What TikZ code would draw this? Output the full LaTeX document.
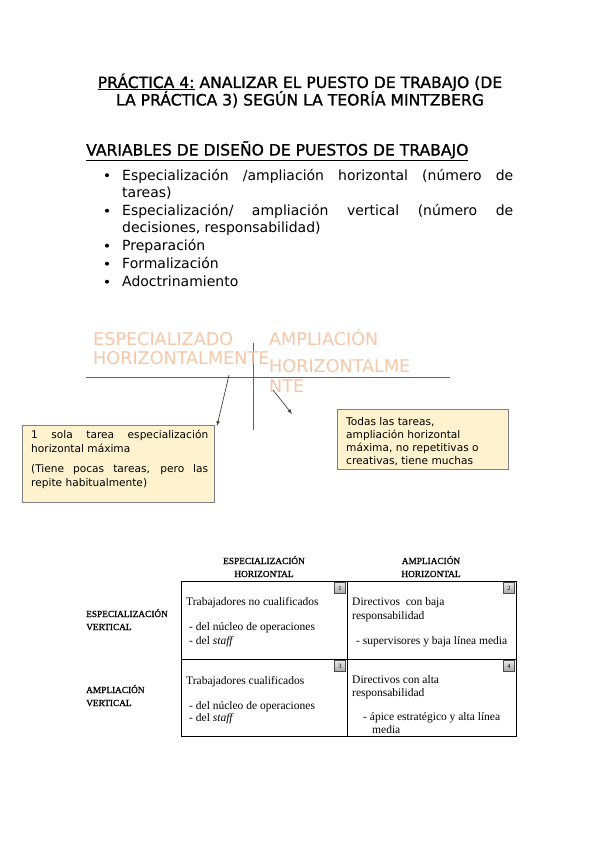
\documentclass[tikz,border=0pt]{standalone}
\usepackage{fontspec}
\setmainfont{DejaVu Sans}
\newfontfamily\titlefont[FakeBold=1.2]{DejaVu Sans}
\newfontfamily\cellfont{Liberation Serif}
\newfontfamily\headfont[FakeBold=1]{Liberation Serif}
\definecolor{peach}{RGB}{247,198,166}
\definecolor{notefill}{RGB}{255,242,206}
\definecolor{notedraw}{RGB}{128,128,128}
\definecolor{axisgray}{RGB}{95,95,95}

\begin{document}
\begin{tikzpicture}[x=1pt,y=-1pt,
  txt/.style={anchor=base west,inner sep=0pt},
  ttl/.style={anchor=base,inner sep=0pt,font=\titlefont\fontsize{15.6}{18}\selectfont},
  item/.style={txt,font=\fontsize{14}{16}\selectfont},
  big/.style={txt,text=peach,font=\fontsize{17.6}{20}\selectfont},
  note/.style={txt,font=\fontsize{10.6}{13}\selectfont},
  cell/.style={txt,font=\cellfont\fontsize{11.5}{13}\selectfont},
  head/.style={anchor=base,inner sep=0pt,font=\headfont\fontsize{9.3}{11}\selectfont},
  numbox/.style={draw=black!70,line width=1.3pt,top color=black!8,bottom color=black!35,
    minimum size=11.5pt,inner sep=0pt,font=\cellfont\fontsize{6.5}{7}\selectfont}
]
  \useasboundingbox (0,0) rectangle (599,848);

  % title
  \node[ttl] (title1) at (300,88) {\underline{PRÁCTICA 4:} ANALIZAR EL PUESTO DE TRABAJO (DE};
  \node[ttl] (title2) at (300,105.5) {LA PRÁCTICA 3) SEGÚN LA TEORÍA MINTZBERG};
  \node[ttl,anchor=base west] (vars) at (86,155.5) {\underline{VARIABLES DE DISEÑO DE PUESTOS DE TRABAJO}};

  % bullet list
  \node[item] (b1) at (122,180) {\makebox[391pt][s]{Especialización /ampliación horizontal (número de}};
  \node[item] (b1b) at (122,197) {tareas)};
  \node[item] (b2) at (122,215.5) {\makebox[391pt][s]{Especialización/ ampliación vertical (número de}};
  \node[item] (b2b) at (122,232.5) {decisiones, responsabilidad)};
  \node[item] (b3) at (122,250.5) {Preparación};
  \node[item] (b4) at (122,268.5) {Formalización};
  \node[item] (b5) at (122,286.5) {Adoctrinamiento};
  \foreach \b in {b1,b2,b3,b4,b5}
    \fill (\b.base west) ++(-15,-4.8) circle (2);

  % axis with the two poles
  \coordinate (hl) at (86,377);
  \coordinate (hr) at (450,377);
  \coordinate (vt) at (253,343);
  \coordinate (vb) at (253,430);
  \draw[axisgray,line width=0.9pt] (hl) -- (hr);
  \draw[axisgray,line width=0.9pt] (vt) -- (vb);

  \node[big] (esp1) at (93,345) {ESPECIALIZADO};
  \node[big] (esp2) at (93,364.5) {HORIZONTALMENTE};
  \node[big] (amp1) at (269,345) {AMPLIACIÓN};
  \node[big] (amp2) at (269,372.5) {HORIZONTALME};
  \node[big] (amp3) at (269,392.5) {NTE};

  % notes
  \draw[notedraw,fill=notefill,line width=0.8pt] (22,425) rectangle (214,502);
  \node[note] (n1) at (31,438) {\makebox[177pt][s]{1 sola tarea especialización}};
  \node[note] (n2) at (31,452) {horizontal máxima};
  \node[note] (n3) at (31,472) {\makebox[177pt][s]{(Tiene pocas tareas, pero las}};
  \node[note] (n4) at (31,486) {repite habitualmente)};

  \draw[notedraw,fill=notefill,line width=0.8pt] (337,409) rectangle (508,469);
  \node[note] (m1) at (346,425) {Todas las tareas,};
  \node[note] (m2) at (346,438.5) {ampliación horizontal};
  \node[note] (m3) at (346,451.5) {máxima, no repetitivas o};
  \node[note] (m4) at (346,464.5) {creativas, tiene muchas};

  \coordinate (a1s) at (229,375);
  \coordinate (a1e) at (217,426);
  \coordinate (a2s) at (273,390);
  \coordinate (a2e) at (292,414);
  \draw[-latex,axisgray!70!black,line width=0.7pt] (a1s) -- (a1e);
  \draw[-latex,axisgray!70!black,line width=0.7pt] (a2s) -- (a2e);

  % Mintzberg table
  \node[head] (h1) at (264,564) {ESPECIALIZACIÓN};
  \node[head] (h1b) at (264,577) {HORIZONTAL};
  \node[head] (h2) at (431,564) {AMPLIACIÓN};
  \node[head] (h2b) at (431,577) {HORIZONTAL};
  \node[head,anchor=base west] (r1) at (86,617) {ESPECIALIZACIÓN};
  \node[head,anchor=base west] (r1b) at (86,630) {VERTICAL};
  \node[head,anchor=base west] (r2) at (86,693) {AMPLIACIÓN};
  \node[head,anchor=base west] (r2b) at (86,706) {VERTICAL};

  \draw[line width=0.8pt] (181,581) rectangle (516,736);
  \draw[line width=0.8pt] (181,659) -- (516,659);
  \draw[line width=0.8pt] (347,581) -- (347,736);

  \node[cell] (t1) at (186,605) {Trabajadores no cualificados};
  \node[cell] (t1a) at (189,630.5) {- del núcleo de operaciones};
  \node[cell] (t1b) at (189,644) {- del \textit{staff}};
  \node[cell] (t2) at (352,605) {Directivos~ con baja};
  \node[cell] (t2a) at (352,619) {responsabilidad};
  \node[cell] (t2b) at (356,644) {- supervisores y baja línea media};
  \node[cell] (t3) at (186,684) {Trabajadores cualificados};
  \node[cell] (t3a) at (189,709) {- del núcleo de operaciones};
  \node[cell] (t3b) at (189,721) {- del \textit{staff}};
  \node[cell] (t4) at (352,683) {Directivos con alta};
  \node[cell] (t4a) at (352,696) {responsabilidad};
  \node[cell] (t4b) at (363,720) {- ápice estratégico y alta línea};
  \node[cell] (t4c) at (372,733) {media};

  \node[numbox] (q1) at (340,588) {1};
  \node[numbox] (q2) at (509,588) {2};
  \node[numbox] (q3) at (340,666) {3};
  \node[numbox] (q4) at (509,666) {4};
\end{tikzpicture}
\end{document}
